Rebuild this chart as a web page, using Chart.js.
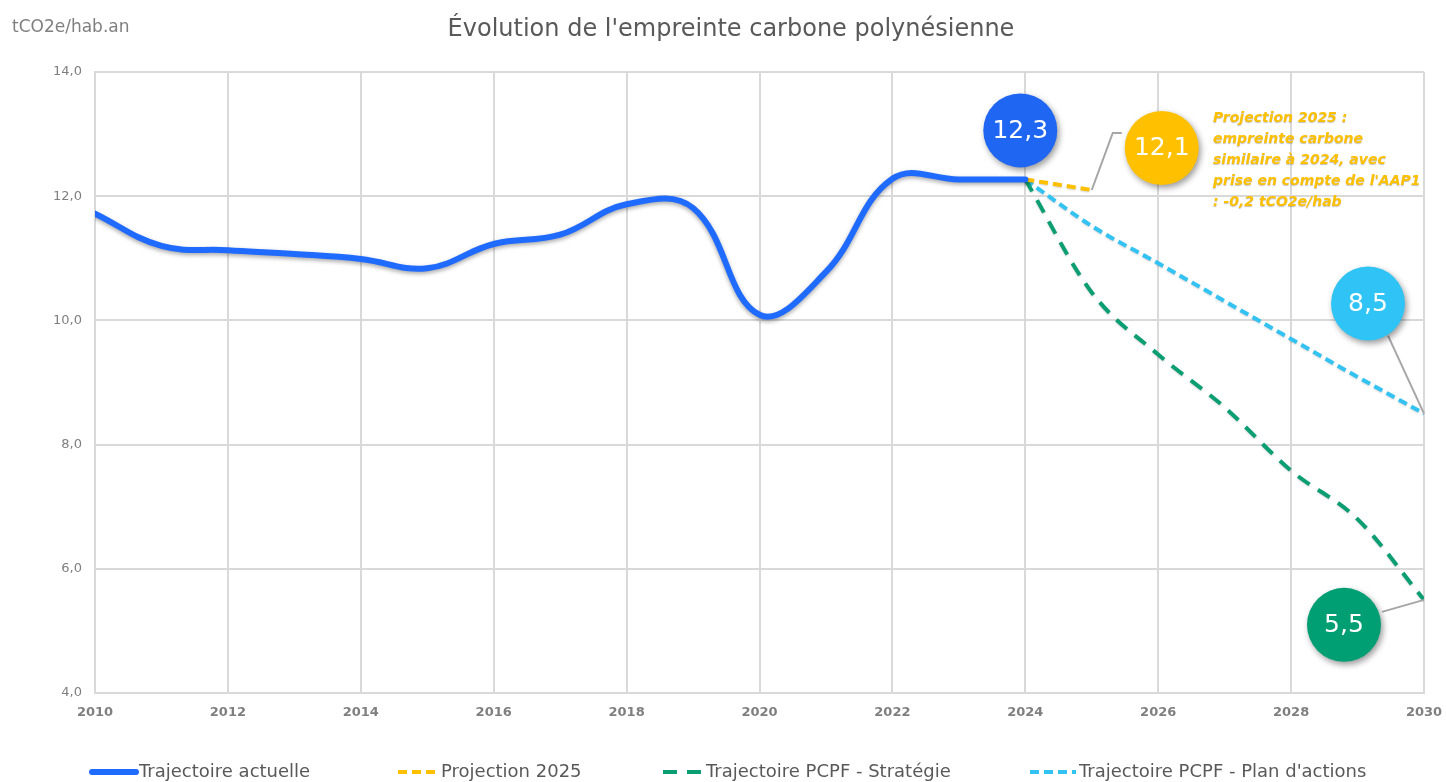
<!DOCTYPE html>
<html>
<head>
<meta charset="utf-8">
<script src="https://cdn.jsdelivr.net/npm/chart.js@4"></script>
<style>
  html, body { margin: 0; padding: 0; background: #fff; }
  #wrap { width: 1446px; height: 782px; position: relative; }
</style>
</head>
<body>
<div id="wrap"><canvas id="empreinteChart"></canvas></div>
<script>
// Data (tCO2e/hab.an)
const years = [2010, 2011, 2012, 2013, 2014, 2015, 2016, 2017, 2018, 2019, 2020, 2021, 2022, 2023, 2024];
const trajectoireActuelle = [11.72, 11.2, 11.13, 11.07, 10.99, 10.84, 11.23, 11.38, 11.87, 11.81, 10.09, 10.78, 12.28, 12.27, 12.27];
const projYears = [2024, 2025];
const projection2025 = [12.27, 12.1];
const pcpfYears = [2024, 2025, 2026, 2027, 2028, 2029, 2030];
const pcpfStrategie = [12.27, 10.45, 9.45, 8.6, 7.58, 6.8, 5.5];
const pcpfPlanActions = [12.27, 11.52, 10.92, 10.31, 9.7, 9.09, 8.5];
const seriesLabels = ['Trajectoire actuelle', 'Projection 2025', 'Trajectoire PCPF - Stratégie', "Trajectoire PCPF - Plan d'actions"];
const xTicks = [2010, 2012, 2014, 2016, 2018, 2020, 2022, 2024, 2026, 2028, 2030];
const yTicks = [4, 6, 8, 10, 12, 14];

const FONT = "'DejaVu Sans', sans-serif";
const GRID = '#d9d9d9';

function toPoints(xs, ys) {
    return xs.map((x, i) => ({ x: x, y: ys[i] }));
}

// Bubble labels attached to a point of a series
const bubbles = [
    { ds: 0, idx: 14, text: '12,3', color: '#1f66f2', dx: -5, dy: -49, leader: null },
    { ds: 1, idx: 1, text: '12,1', color: '#ffc000', dx: 70, dy: -42, leader: [[21, -57], [30, -57]] },
    { ds: 3, idx: 6, text: '8,5', color: '#2fc4f5', dx: -56, dy: -110, leader: [[-36, -78]] },
    { ds: 2, idx: 6, text: '5,5', color: '#009e73', dx: -80, dy: 25, leader: [[-42, 12]] }
];

const noteLines = ['Projection 2025 :', 'empreinte carbone', 'similaire à 2024, avec', "prise en compte de l'AAP1", ': -0,2 tCO2e/hab'];

const overlay = {
    id: 'overlay',
    beforeDatasetDraw(chart, args) {
        const ctx = chart.ctx;
        ctx.save();
        if (args.index === 0) {
            ctx.shadowColor = 'rgba(0,0,0,0.35)';
            ctx.shadowBlur = 4;
            ctx.shadowOffsetY = 2;
        } else {
            ctx.shadowColor = 'rgba(0,0,0,0.18)';
            ctx.shadowBlur = 2;
            ctx.shadowOffsetY = 1;
        }
    },
    afterDatasetDraw(chart) {
        chart.ctx.restore();
    },
    afterDraw(chart) {
        const ctx = chart.ctx;

        // title and unit
        ctx.save();
        ctx.fillStyle = '#595959';
        ctx.font = '24px ' + FONT;
        ctx.textAlign = 'center';
        ctx.textBaseline = 'middle';
        ctx.fillText("Évolution de l'empreinte carbone polynésienne", 731, 30);
        ctx.fillStyle = '#7f7f7f';
        ctx.font = '17px ' + FONT;
        ctx.textAlign = 'left';
        ctx.fillText('tCO2e/hab.an', 12, 28);
        ctx.restore();

        // bubbles with leader lines
        bubbles.forEach(b => {
            const pt = chart.getDatasetMeta(b.ds).data[b.idx];
            const cx = pt.x + b.dx, cy = pt.y + b.dy;
            if (b.leader) {
                ctx.save();
                ctx.strokeStyle = '#a6a6a6';
                ctx.lineWidth = 2;
                ctx.beginPath();
                ctx.moveTo(pt.x, pt.y);
                b.leader.forEach(p => ctx.lineTo(pt.x + p[0], pt.y + p[1]));
                ctx.stroke();
                ctx.restore();
            }
            ctx.save();
            ctx.shadowColor = 'rgba(0,0,0,0.4)';
            ctx.shadowBlur = 6;
            ctx.shadowOffsetX = 2;
            ctx.shadowOffsetY = 3;
            ctx.fillStyle = b.color;
            ctx.beginPath();
            ctx.arc(cx, cy, 37, 0, Math.PI * 2);
            ctx.fill();
            ctx.restore();
            ctx.save();
            ctx.fillStyle = '#fff';
            ctx.font = '25px ' + FONT;
            ctx.textAlign = 'center';
            ctx.textBaseline = 'middle';
            ctx.fillText(b.text, cx, cy + 1);
            ctx.restore();
        });

        // projection note
        ctx.save();
        ctx.fillStyle = '#ffc000';
        ctx.shadowColor = 'rgba(0,0,0,0.25)';
        ctx.shadowBlur = 1;
        ctx.shadowOffsetY = 1;
        ctx.font = 'italic bold 14px ' + FONT;
        ctx.textBaseline = 'middle';
        noteLines.forEach((t, i) => ctx.fillText(t, 1213, 118 + i * 21));
        ctx.restore();

        // legend
        const legendX = [92, 398, 663, 1030];
        const sampleW = [44, 40, 40, 46];
        const ly = 772;
        chart.data.datasets.forEach((ds, i) => {
            ctx.save();
            ctx.strokeStyle = ds.borderColor;
            ctx.lineWidth = i === 0 ? 6 : 4;
            ctx.lineCap = i === 0 ? 'round' : 'butt';
            ctx.setLineDash(ds.borderDash || []);
            ctx.beginPath();
            ctx.moveTo(legendX[i], ly);
            ctx.lineTo(legendX[i] + sampleW[i], ly);
            ctx.stroke();
            ctx.setLineDash([]);
            ctx.fillStyle = '#595959';
            ctx.font = '18px ' + FONT;
            ctx.textBaseline = 'middle';
            ctx.fillText(ds.label, legendX[i] + sampleW[i] + 3, ly);
            ctx.restore();
        });
    }
};

const ctx = document.getElementById('empreinteChart').getContext('2d');
new Chart(ctx, {
    type: 'line',
    data: {
        datasets: [
            {
                label: seriesLabels[0],
                data: toPoints(years, trajectoireActuelle),
                borderColor: '#1f6bff',
                borderWidth: 6,
                tension: 0.4,
                pointRadius: 0,
                borderCapStyle: 'round'
            },
            {
                label: seriesLabels[1],
                data: toPoints(projYears, projection2025),
                borderColor: '#ffc000',
                borderWidth: 4,
                borderDash: [9, 5],
                pointRadius: 0
            },
            {
                label: seriesLabels[2],
                data: toPoints(pcpfYears, pcpfStrategie),
                borderColor: '#0a9e72',
                borderWidth: 4,
                borderDash: [14, 10],
                cubicInterpolationMode: 'monotone',
                pointRadius: 0
            },
            {
                label: seriesLabels[3],
                data: toPoints(pcpfYears, pcpfPlanActions),
                borderColor: '#33c3f3',
                borderWidth: 4,
                borderDash: [9, 5],
                cubicInterpolationMode: 'monotone',
                pointRadius: 0
            }
        ]
    },
    options: {
        responsive: true,
        maintainAspectRatio: false,
        animation: false,
        layout: { padding: { top: 72, right: 22, bottom: 49, left: 0 } },
        plugins: {
            legend: { display: false },
            tooltip: { enabled: false }
        },
        scales: {
            x: {
                type: 'linear',
                min: xTicks[0],
                max: xTicks[xTicks.length - 1],
                afterBuildTicks(scale) { scale.ticks = xTicks.map(v => ({ value: v })); },
                afterFit(scale) {
                    scale.height = 40;
                    scale.paddingLeft = 0;
                    scale.paddingRight = 0;
                },
                ticks: {
                    color: '#7f7f7f',
                    font: { family: FONT, size: 13, weight: 'bold' },
                    padding: 12,
                    callback: v => String(v)
                },
                grid: { color: GRID, lineWidth: 2, drawTicks: false },
                border: { color: GRID, width: 2 }
            },
            y: {
                min: yTicks[0],
                max: yTicks[yTicks.length - 1],
                afterBuildTicks(scale) { scale.ticks = yTicks.map(v => ({ value: v })); },
                afterFit(scale) { scale.width = 95; },
                ticks: {
                    color: '#7f7f7f',
                    font: { family: FONT, size: 13 },
                    padding: 13,
                    callback: v => v.toFixed(1).replace('.', ',')
                },
                grid: { color: GRID, lineWidth: 2, drawTicks: false },
                border: { color: GRID, width: 2 }
            }
        }
    },
    plugins: [overlay]
});
</script>
</body>
</html>
